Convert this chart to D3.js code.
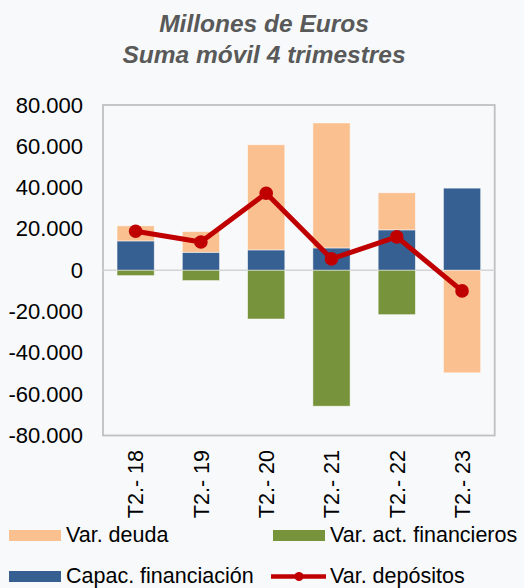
<!DOCTYPE html>
<html>
<head>
<meta charset="utf-8">
<script src="https://cdn.jsdelivr.net/npm/d3@7"></script>
<style>
  html, body { margin: 0; padding: 0; background: #f7f9fb; }
  svg { display: block; font-family: "Liberation Sans", Arial, sans-serif; }
</style>
</head>
<body>
<svg id="chart" width="524" height="588"></svg>
<script>
// Chart data
var categories = ["T2.- 18", "T2.- 19", "T2.- 20", "T2.- 21", "T2.- 22", "T2.- 23"];
var capacFinanciacion = [14200, 8700, 9850, 10800, 19550, 39750];
var varDeuda = [7300, 10000, 50900, 60500, 17950, -49650];
var varActFinancieros = [-2600, -5000, -23600, -65800, -21500, 0];
var varDepositos = [18900, 13700, 37300, 5500, 16150, -10000];
var yTicks = [-80000, -60000, -40000, -20000, 0, 20000, 40000, 60000, 80000];

var chart = {
	"width": 524, "height": 588,
	"left": 103, "right": 494.7, "top": 105, "bottom": 435.5
};

chart.colors = {
	"deuda": "#fac090", "act": "#77933c", "capac": "#376092", "dep": "#c00000"
};

chart.draw = () => {
	let svg = d3.select("#chart");

	// Build the rows for stacking
	let rows = categories.map((c, i) => ({
		cat: c, capac: capacFinanciacion[i], deuda: varDeuda[i], act: varActFinancieros[i]
	}));
	let keys = ["capac", "deuda", "act"];
	let series = d3.stack()
		.keys(keys)
		.offset(d3.stackOffsetDiverging)(rows);

	// Scales
	let x = d3.scaleBand()
		.domain(categories)
		.range([chart.left, chart.right])
		.padding(0);
	let barW = x.bandwidth() * 0.57;
	let y = d3.scaleLinear()
		.domain([-80000, 80000])
		.range([chart.bottom, chart.top]);

	let locale = d3.formatLocale({decimal: ",", thousands: ".", grouping: [3], currency: ["", "€"], minus: "-"});
	let fmt = locale.format(",.0f");

	// Title
	let title = svg.append("g")
		.style("font-weight", "bold")
		.style("font-style", "italic")
		.style("font-size", "24.5px")
		.style("fill", "#595959")
		.attr("text-anchor", "middle");
	title.append("text").attr("x", 264).attr("y", 32).text("Millones de Euros");
	title.append("text").attr("x", 264).attr("y", 63).text("Suma móvil 4 trimestres");

	// Plot frame
	svg.append("rect")
		.attr("x", chart.left)
		.attr("y", chart.top)
		.attr("width", chart.right - chart.left)
		.attr("height", chart.bottom - chart.top)
		.attr("fill", "none")
		.attr("stroke", "#c0c0c0")
		.attr("stroke-width", 1.8);

	// Zero line
	svg.append("line")
		.attr("x1", chart.left).attr("x2", chart.right)
		.attr("y1", y(0)).attr("y2", y(0))
		.attr("stroke", "#d4d4d4")
		.attr("stroke-width", 1.5);

	// Y axis
	let yAxis = svg.append("g")
		.attr("transform", "translate(" + (chart.left - 20) + ",0)")
		.call(d3.axisLeft(y).tickValues(yTicks).tickFormat(fmt).tickSize(0).tickPadding(0));
	yAxis.select(".domain").remove();
	yAxis.selectAll("text")
		.style("font-family", "\"Liberation Sans\", Arial, sans-serif")
		.style("font-size", "22px")
		.style("fill", "#000");

	// Bars
	svg.append("g")
		.selectAll("g")
		.data(series)
		.join("g")
		.attr("fill", (s) => chart.colors[s.key])
		.selectAll("rect")
		.data((s) => s)
		.join("rect")
		.attr("x", (d) => x(d.data.cat) + (x.bandwidth() - barW) / 2)
		.attr("y", (d) => y(Math.max(d[0], d[1])))
		.attr("width", barW)
		.attr("height", (d) => Math.abs(y(d[0]) - y(d[1])))
		.attr("stroke", "#ffffff")
		.attr("stroke-opacity", 0.6)
		.attr("stroke-width", 0.8);

	// Deposits line
	let line = d3.line()
		.x((d, i) => x(categories[i]) + x.bandwidth() / 2)
		.y((d) => y(d));
	svg.append("path")
		.datum(varDepositos)
		.attr("d", line)
		.attr("fill", "none")
		.attr("stroke", chart.colors.dep)
		.attr("stroke-width", 5)
		.attr("stroke-linejoin", "round");
	svg.append("g")
		.selectAll("circle")
		.data(varDepositos)
		.join("circle")
		.attr("cx", (d, i) => x(categories[i]) + x.bandwidth() / 2)
		.attr("cy", (d) => y(d))
		.attr("r", 6.8)
		.attr("fill", chart.colors.dep);

	// X labels (rotated)
	svg.append("g")
		.selectAll("text")
		.data(categories)
		.join("text")
		.attr("transform", (c) => "translate(" + (x(c) + x.bandwidth() / 2) + ",450) rotate(-90)")
		.attr("dy", "0.36em")
		.attr("text-anchor", "end")
		.style("font-size", "21.5px")
		.style("fill", "#000")
		.text((c) => c);

	// Legend
	let legend = svg.append("g").style("font-size", "21.5px").style("fill", "#000");
	let items = [
		{label: "Var. deuda", key: "deuda", x: 9, y: 530},
		{label: "Var. act. financieros", key: "act", x: 273, y: 530},
		{label: "Capac. financiación", key: "capac", x: 9, y: 571}
	];
	items.forEach((it) => {
		legend.append("rect")
			.attr("x", it.x).attr("y", it.y)
			.attr("width", 52).attr("height", 11)
			.attr("fill", chart.colors[it.key]);
		legend.append("text")
			.attr("x", it.x + 57).attr("y", it.y + 12)
			.text(it.label);
	});
	legend.append("line")
		.attr("x1", 271).attr("x2", 326)
		.attr("y1", 576.5).attr("y2", 576.5)
		.attr("stroke", chart.colors.dep)
		.attr("stroke-width", 4.5);
	legend.append("circle")
		.attr("cx", 299).attr("cy", 576.5).attr("r", 4.5)
		.attr("fill", chart.colors.dep);
	legend.append("text")
		.attr("x", 330).attr("y", 583)
		.text("Var. depósitos");
}

chart.draw();
</script>
</body>
</html>
